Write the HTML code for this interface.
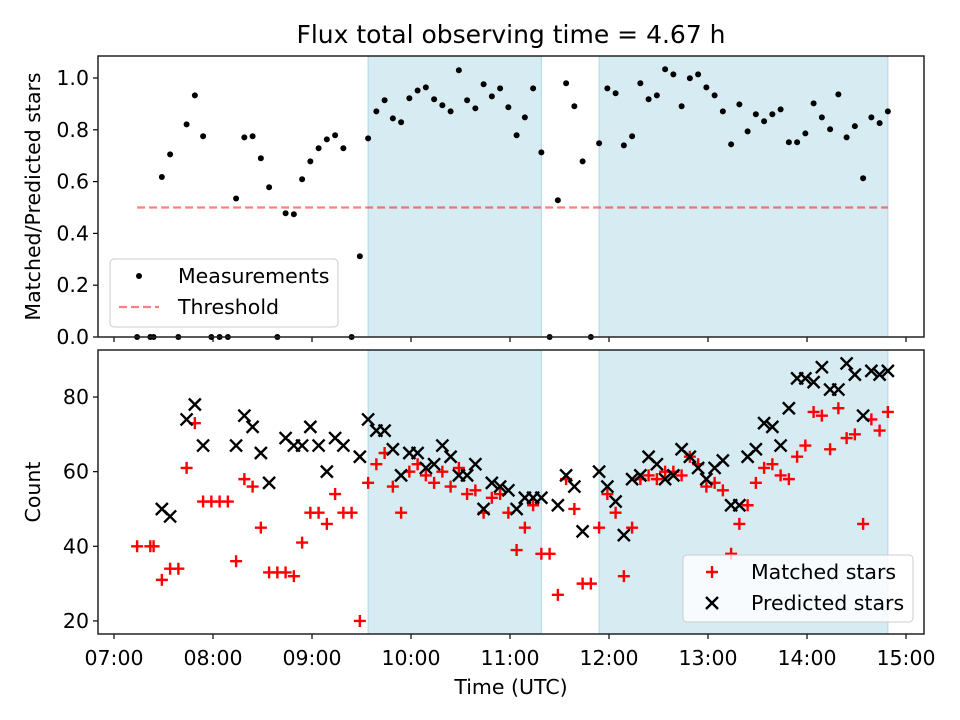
<!DOCTYPE html>
<html><head><meta charset="utf-8">
<style>
html,body{margin:0;padding:0;background:#fff;}
svg{display:block;font-family:"DejaVu Sans","Liberation Sans",sans-serif;}
</style></head>
<body>
<svg id="chart" width="960" height="720" viewBox="0 0 960 720" xmlns="http://www.w3.org/2000/svg">
<text x="511" y="43" font-size="25" text-anchor="middle" fill="#000">Flux total observing time = 4.67 h</text>
<g id="topPanel"></g>
<g id="botPanel"></g>
</svg>
<script>
// times in minutes after midnight UTC
const times = [434,442,444,449,454,459,464,469,474,479,484,489,494,499,504,509,514,519,524,529,534,539,544,549,554,559,564,569,574,579,584,589,594,599,604,609,614,619,624,629,634,639,644,649,654,659,664,669,674,679,684,689,694,699,704,709,714,719,724,729,734,739,744,749,754,759,764,769,774,779,784,789,794,799,804,809,814,819,824,829,834,839,844,849,854,859,864,869,874,879,884,889];
const ratio = [0,0,0,.618,.705,0,.821,.933,.775,0,0,0,.535,.771,.775,.690,.578,0,.478,.474,.609,.678,.729,.763,.779,.729,0,.312,.767,.871,.914,.844,.829,.922,.952,.964,.918,.895,.871,1.030,.914,.883,.976,.929,.960,.887,.779,.848,.960,.713,0,.528,.980,.891,.678,0,.748,.960,.941,.740,.775,.980,.918,.933,1.034,1.014,.891,.999,1.014,.964,.933,.871,.744,.898,.794,.860,.833,.860,.879,.752,.752,.786,.902,.848,.802,.937,.771,.814,.613,.848,.826,.871];
const matched = [40,40,40,31,34,34,61,73,52,52,52,52,36,58,56,45,33,33,33,32,41,49,49,46,54,49,49,20,57,62,65,56,49,60,62,59,57,60,56,61,54,55,49,53,54,49,39,45,51,38,38,27,58,50,30,30,45,54,49,32,45,58,59,58,60,60,59,64,62,56,57,55,38,46,51,57,61,62,59,58,64,67,76,75,66,77,69,70,46,74,71,76];
const predicted = [null,null,null,50,48,null,74,78,67,null,null,null,67,75,72,65,57,null,69,67,67,72,67,60,69,67,null,64,74,71,71,66,59,65,65,61,62,67,64,59,59,62,50,57,56,55,50,53,53,53,null,51,59,56,44,null,60,56,52,43,58,59,64,62,58,59,66,64,61,58,61,63,51,51,64,66,73,72,67,77,85,85,84,88,82,82,89,86,75,87,86,87];
const threshold = 0.5;
const spans = [[574,679],[714,889]];
const xTickLabels = ["07:00","08:00","09:00","10:00","11:00","12:00","13:00","14:00","15:00"];
const xTickMinutes = [420,480,540,600,660,720,780,840,900];
const topTicks = [0.0,0.2,0.4,0.6,0.8,1.0];
const botTicks = [20,40,60,80];

const NS="http://www.w3.org/2000/svg";
const L=98,R=924;
const T1=56,B1=337,T2=350,B2=634;
const FS=20.5;
const xMin=410.3,xMax=910.9;
const X=m=>L+(m-xMin)/(xMax-xMin)*(R-L);
const y1Min=0,y1Max=1.085;
const Y1=v=>B1-(v-y1Min)/(y1Max-y1Min)*(B1-T1);
const y2Min=16.5,y2Max=92.6;
const Y2=v=>B2-(v-y2Min)/(y2Max-y2Min)*(B2-T2);

function mk(tag,attrs,parent){const e=document.createElementNS(NS,tag);for(const k in attrs)e.setAttribute(k,attrs[k]);parent.appendChild(e);return e;}
const topG=document.getElementById('topPanel'), botG=document.getElementById('botPanel');

function panel(g,T,B,Yf,ticks,fmt,label,labelY,nameP){
  for(const s of spans){
    const r=mk('rect',{x:X(s[0]),y:T,width:X(s[1])-X(s[0]),height:B-T,fill:'#add8e6','fill-opacity':0.5,stroke:'#add8e6','stroke-width':1},g);
    
    
  }
  ticks.forEach(v=>{
    const y=Yf(v);
    mk('line',{x1:L-5,x2:L,y1:y,y2:y,stroke:'#000','stroke-width':1.2},g);
    const t=mk('text',{x:L-9,y:y+7,'font-size':FS,'text-anchor':'end',fill:'#000'},g);
    t.textContent=fmt(v);
    
    
  });
  xTickMinutes.forEach(m=>{
    mk('line',{x1:X(m),x2:X(m),y1:B,y2:B+5,stroke:'#000','stroke-width':1.2},g);
  });
  const yl=mk('text',{x:0,y:0,'font-size':FS,'text-anchor':'middle',fill:'#000',transform:`translate(40,${labelY}) rotate(-90)`},g);
  yl.textContent=label;
  
  
}
panel(topG,T1,B1,Y1,topTicks,v=>v.toFixed(1),'Matched/Predicted stars',(T1+B1)/2,'ratio');
panel(botG,T2,B2,Y2,botTicks,v=>String(v),'Count',(T2+B2)/2,'count');

const th=mk('line',{x1:X(times[0]),x2:X(times[times.length-1]),y1:Y1(threshold),y2:Y1(threshold),stroke:'#ff0000','stroke-opacity':0.5,'stroke-width':2.2,'stroke-dasharray':'8,4'},topG);



times.forEach((m,i)=>{
  const c=mk('circle',{cx:X(m),cy:Y1(ratio[i]),r:3,fill:'#000'},topG);
  
  
});
times.forEach((m,i)=>{
  const x=X(m),y=Y2(matched[i]);
  const p=mk('path',{d:`M${x-6},${y}H${x+6}M${x},${y-6}V${y+6}`,stroke:'#ff0000','stroke-width':2.4},botG);
  
  
});
times.forEach((m,i)=>{
  if(predicted[i]==null)return;
  const x=X(m),y=Y2(predicted[i]);
  const p=mk('path',{d:`M${x-6},${y-6}L${x+6},${y+6}M${x-6},${y+6}L${x+6},${y-6}`,stroke:'#000','stroke-width':2.4},botG);
  
  
});

[[T1,B1,topG],[T2,B2,botG]].forEach(([T,B,g])=>{
  const f=mk('rect',{x:L,y:T,width:R-L,height:B-T,fill:'none',stroke:'#222','stroke-width':1.5},g);
  
  
});
xTickMinutes.forEach((m,i)=>{
  const t=mk('text',{x:X(m),y:B2+31,'font-size':FS,'text-anchor':'middle',fill:'#000'},botG);
  t.textContent=xTickLabels[i];
  
  
});
const xl=mk('text',{x:511,y:B2+60,'font-size':FS,'text-anchor':'middle',fill:'#000'},botG);
xl.textContent='Time (UTC)';



function legend(g,x,y,w,h,name,entries){
  const lg=mk('g',{},g);
  
  
  mk('rect',{x:x,y:y,width:w,height:h,rx:4,fill:'#fff','fill-opacity':0.8,stroke:'#ccc','stroke-width':1},lg);
  entries.forEach((e,i)=>{
    const cy=y+17+i*31;
    e.draw(lg,x+29,cy);
    const t=mk('text',{x:x+68,y:cy+7,'font-size':FS,fill:'#000'},lg);
    t.textContent=e.label;
    
    
  });
}
legend(topG,110,259,228,68,'ratio-legend',[
  {label:'Measurements',draw:(g,x,y)=>mk('circle',{cx:x,cy:y,r:3,fill:'#000'},g)},
  {label:'Threshold',draw:(g,x,y)=>mk('line',{x1:x-20,x2:x+20,y1:y,y2:y,stroke:'#ff0000','stroke-opacity':0.5,'stroke-width':2.2,'stroke-dasharray':'8,4'},g)}
]);
legend(botG,683,555,230,67,'count-legend',[
  {label:'Matched stars',draw:(g,x,y)=>mk('path',{d:`M${x-6},${y}H${x+6}M${x},${y-6}V${y+6}`,stroke:'#ff0000','stroke-width':2.4},g)},
  {label:'Predicted stars',draw:(g,x,y)=>mk('path',{d:`M${x-6},${y-6}L${x+6},${y+6}M${x-6},${y+6}L${x+6},${y-6}`,stroke:'#000','stroke-width':2.4},g)}
]);
</script>
</body></html>
